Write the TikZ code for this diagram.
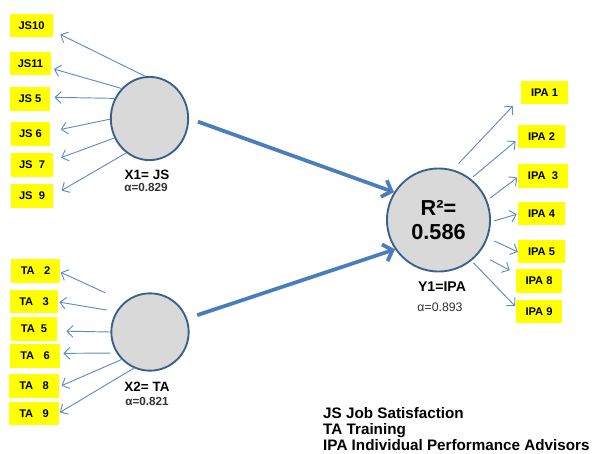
\documentclass[tikz,border=0pt]{standalone}
\usepackage{fontspec}
\setmainfont{Liberation Sans}
\usetikzlibrary{arrows.meta,shapes.geometric}

\definecolor{itemyellow}{RGB}{255,255,0}
\definecolor{latentgray}{RGB}{217,217,217}
\definecolor{latentedge}{RGB}{60,96,140}
\definecolor{pathblue}{RGB}{74,126,187}
\definecolor{loadblue}{RGB}{95,140,200}

\tikzset{
  item/.style={fill=itemyellow, font=\bfseries\fontsize{9.5}{10}\selectfont, minimum height=20pt, inner xsep=7pt},
  latent/.style={draw=latentedge, line width=1.6pt, fill=latentgray},
  loading/.style={-{Straight Barb[length=5pt,width=10pt]}, draw=loadblue, line width=0.8pt},
  structural/.style={-{Straight Barb[length=7pt,width=15pt]}, draw=pathblue, line width=3.2pt},
  latentname/.style={font=\bfseries\fontsize{11.5}{13}\selectfont},
  latentalpha/.style={font=\bfseries\fontsize{10}{12}\selectfont, text=black!80}
}

\begin{document}
\begin{tikzpicture}[x=0.03cm, y=-0.03cm]
    \useasboundingbox (0,0) rectangle (599,453);

    % X1 = JS
    \node[latent, ellipse, minimum width=66pt, minimum height=71pt] (x1) at (149.5,118.5) {};
    \node[latentname] (x1name) at (147,175) {X1= JS};
    \node[latentalpha] (x1alpha) at (146,187) {α=0.829};

    % X2 = TA
    \node[latent, circle, minimum size=66pt] (x2) at (150,332) {};
    \node[latentname] (x2name) at (147,387) {X2= TA};
    \node[latentalpha] (x2alpha) at (147,401) {α=0.821};

    % Y1 = IPA
    \node[latent, circle, minimum size=88pt, align=center, font=\bfseries\fontsize{18.5}{21}\selectfont] (y1) at (438.5,220) {R²=\\0.586};
    \node[latentname, font=\bfseries\fontsize{12}{14}\selectfont] (y1name) at (442,287) {Y1=IPA};
    \node[font=\fontsize{10.5}{12}\selectfont, text=black!80] (y1alpha) at (440,307) {α=0.893};

    % JS items
    \node[item] (js10) at (31.5,25.5) {JS10};
    \node[item] (js11) at (30.5,63.5) {JS11};
    \node[item] (js5) at (30,99) {JS 5};
    \node[item] (js6) at (30.5,134) {JS 6};
    \node[item] (js7) at (32,165) {JS\ \ 7};
    \node[item] (js9) at (32,196) {JS\ \ 9};

    % TA items
    \node[item, minimum width=41pt] (ta2) at (35.5,271) {TA\ \ \ 2};
    \node[item, minimum width=41pt] (ta3) at (34,301.5) {TA\ \ \ 3};
    \node[item, minimum width=39pt] (ta5) at (34,329) {TA\ \ 5};
    \node[item, minimum width=42pt] (ta6) at (35,356) {TA\ \ \ 6};
    \node[item, minimum width=42pt] (ta8) at (34,386) {TA\ \ \ 8};
    \node[item, minimum width=42pt] (ta9) at (34,413.5) {TA\ \ \ 9};

    % IPA items
    \node[item, minimum width=40pt] (ipa1) at (544.5,92.5) {IPA 1};
    \node[item, minimum width=40pt] (ipa2) at (541.5,136.5) {IPA 2};
    \node[item, minimum width=42pt] (ipa3) at (543,176) {IPA\ \ 3};
    \node[item, minimum width=40pt] (ipa4) at (541.5,213.5) {IPA 4};
    \node[item, minimum width=40pt] (ipa5) at (541.5,251.5) {IPA 5};
    \node[item, minimum width=39pt] (ipa8) at (539,281) {IPA 8};
    \node[item, minimum width=39pt] (ipa9) at (539,311.5) {IPA 9};

    % loadings X1
    \draw[loading, shorten >=7pt] (x1.96) -- (js10.-14);
    \draw[loading, shorten >=2pt] (x1.133) -- (js11.-13);
    \draw[loading, shorten >=4pt] (x1.150) -- (js5.5);
    \draw[loading, shorten >=9pt] (x1.181) -- (js6.7);
    \draw[loading, shorten >=7pt] (x1.209) -- (js7.12);
    \draw[loading, shorten >=8pt] (x1.236) -- (js9.2);

    % loadings X2
    \draw[loading, shorten <=18pt, shorten >=1pt] (x2.130) -- (ta2.-2);
    \draw[loading, shorten <=8pt, shorten >=1pt] (x2.149) -- (ta3.-1);
    \draw[loading, shorten >=8pt] (x2.180) -- (ta5.-5);
    \draw[loading, shorten <=5pt, shorten >=3pt] (x2.212) -- (ta6.6);
    \draw[loading, shorten >=2.5pt] (x2.224) -- (ta8.-2);
    \draw[loading, shorten >=1pt] (x2.246) -- (ta9.1);

    % loadings Y1
    \draw[loading, shorten <=7pt, shorten >=10pt] (y1.74) -- (ipa1.192);
    \draw[loading, shorten <=2.5pt, shorten >=2.5pt] (y1.52) -- (ipa2.187);
    \draw[loading, shorten <=3pt, shorten >=1pt] (y1.22) -- (ipa3.182);
    \draw[loading, shorten <=3pt, shorten >=1pt] (y1.358) -- (ipa4.181);
    \draw[loading, shorten <=6pt] (y1.340) -- (ipa5.181);
    \draw[loading, shorten <=11pt, shorten >=6pt] (y1.320) -- (ipa8.162);
    \draw[loading, shorten <=2.5pt, shorten >=1pt] (y1.309) -- (ipa9.169);

    % paths
    \draw[structural, shorten <=8pt] (x1.east) -- (y1.148);
    \draw[structural, shorten <=9pt] (x2.20) -- (y1.214);

    % legend
    \node[anchor=west, align=left, inner sep=0pt, font=\bfseries\fontsize{13}{14}\selectfont] (legend) at (323,429) {JS Job Satisfaction\\TA Training\\IPA Individual Performance Advisors};

\end{tikzpicture}
\end{document}
